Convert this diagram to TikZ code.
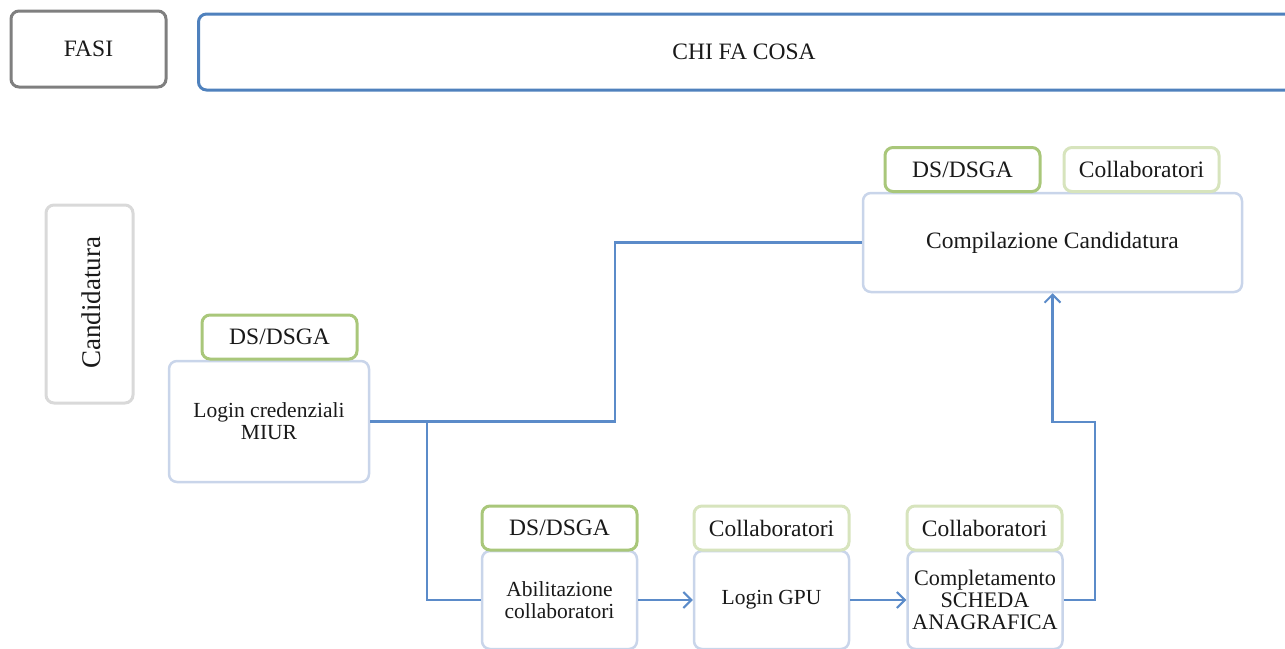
\documentclass[tikz,border=0pt]{standalone}
\usepackage{fontspec}
\setmainfont{Liberation Serif}
\usetikzlibrary{arrows.meta}
\definecolor{fasigray}{HTML}{7F7F7F}
\definecolor{chiblue}{HTML}{4F81BD}
\definecolor{candgray}{HTML}{D9D9D9}
\definecolor{boxblue}{HTML}{C9D5EA}
\definecolor{tagdark}{HTML}{A9C77A}
\definecolor{taglight}{HTML}{D7E4BD}
\definecolor{linkblue}{HTML}{5B8BC9}
\tikzset{
  txt/.style={font=\fontsize{23.5}{22}\selectfont, text=black!90},
  smalltxt/.style={font=\fontsize{21.5}{22}\selectfont},
  base/.style={rectangle, rounded corners=8pt, line width=3pt, fill=white, inner sep=0pt, txt, align=center},
  mainbox/.style={base, draw=boxblue, line width=2.5pt},
  tagdk/.style={base, draw=tagdark, minimum width=155pt, minimum height=44pt},
  taglt/.style={base, draw=taglight, minimum width=155pt, minimum height=44pt},
  conn/.style={draw=linkblue, line width=2.2pt},
  arr/.style={conn, -{Straight Barb[length=8pt,width=16pt,line width=2pt]}},
}
\begin{document}
\begin{tikzpicture}[x=1pt,y=-1pt]
\useasboundingbox (0,0) rectangle (1285,648);
% header
\node[base, draw=fasigray, minimum width=155pt, minimum height=76pt] (fasi) at (88.5,49) {FASI};
\node[base, draw=chiblue, anchor=west, minimum width=1110pt, minimum height=76pt] (chi) at (197,52) {};
\node[txt] (chit) at (744,52) {CHI FA COSA};
% phase
\node[base, draw=candgray, minimum width=87pt, minimum height=198pt] (cand) at (89.5,304) {};
\node[txt, font=\fontsize{27}{28}\selectfont, rotate=90] (candt) at (91,303) {Candidatura};
% main boxes
\node[mainbox, minimum width=379pt, minimum height=99pt] (comp) at (1052.5,242.5) {Compilazione Candidatura};
\node[mainbox, smalltxt, minimum width=200pt, minimum height=121pt] (login) at (269,421.5) {Login credenziali\\MIUR};
\node[mainbox, smalltxt, minimum width=155pt, minimum height=98pt] (abil) at (559.5,600) {Abilitazione\\collaboratori};
\node[mainbox, smalltxt, minimum width=155pt, minimum height=98pt] (gpu) at (771.5,600) {Login GPU};
\node[mainbox, font=\fontsize{22.2}{22}\selectfont, minimum width=155pt, minimum height=98pt] (compl) at (985,600) {Completamento\\SCHEDA\\ANAGRAFICA};
% tags
\node[tagdk] (t1) at (962.5,169.5) {DS/DSGA};
\node[taglt] (t2) at (1141.5,169.5) {Collaboratori};
\node[tagdk] (t3) at (279.5,337) {DS/DSGA};
\node[tagdk] (t4) at (559.5,528) {DS/DSGA};
\node[taglt] (t5) at (771.5,528) {Collaboratori};
\node[taglt] (t6) at (984.5,528) {Collaboratori};
% connectors
\coordinate (j) at (427,421.5);
\coordinate (k) at (615,421.5);
\coordinate (r) at (1095,422);
\draw[conn] (login.east) -- (j) -- (k) |- (comp.west);
\draw[conn] (j) |- (abil.west);
\draw[arr] (abil.east) -- (gpu.west);
\draw[arr] (gpu.east) -- (compl.west);
\draw[arr] (compl.east) -| (r) -| (comp.south);
\end{tikzpicture}
\end{document}
